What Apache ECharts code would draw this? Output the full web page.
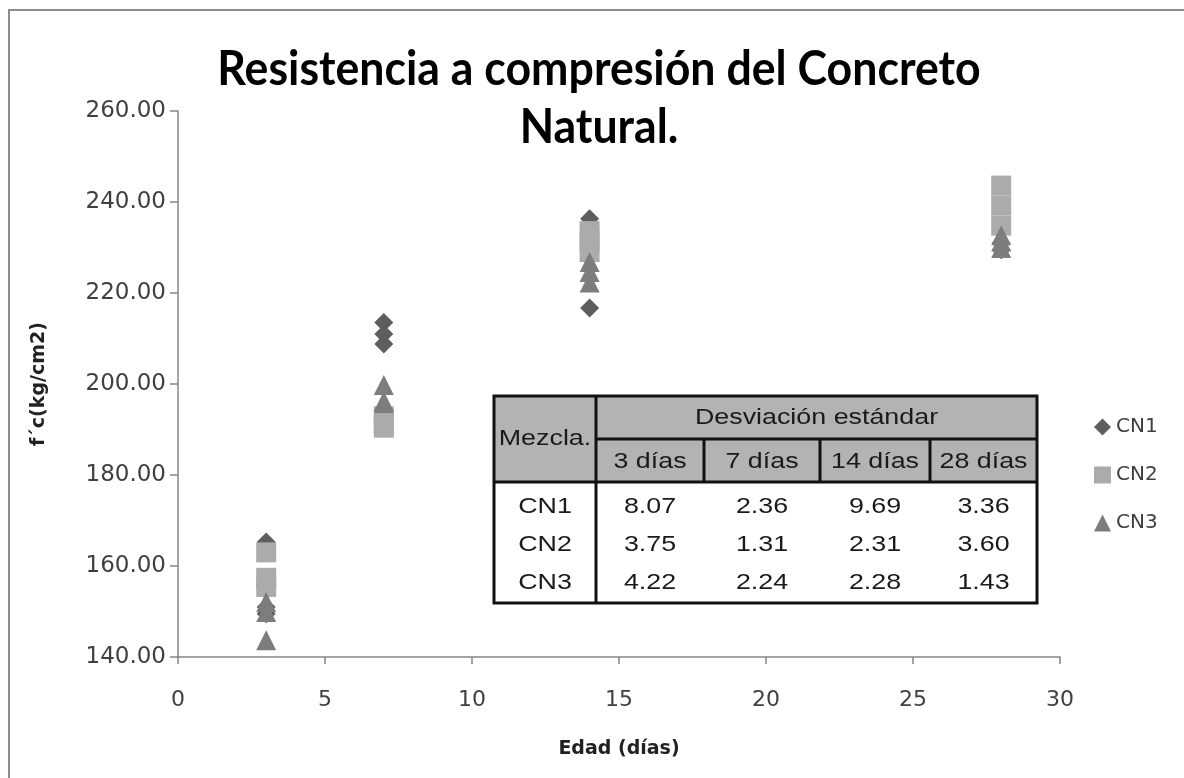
<!DOCTYPE html>
<html>
<head>
<meta charset="utf-8">
<script src="https://cdn.jsdelivr.net/npm/echarts@6/dist/echarts.min.js"></script>
<style>
  html, body { margin: 0; padding: 0; background: #ffffff; }
  #chart { width: 1184px; height: 778px; }
</style>
</head>
<body>
<div id="chart"></div>
<script>
// Test ages (days) and compressive strength results for each mix, f'c in kg/cm2
const days = [3, 7, 14, 28];
const cn1 = [[165.3, 151.0, 149.5], [213.5, 211.0, 208.8], [236.3, 232.0, 216.7], [234.6, 231.0, 229.5]];
const cn2 = [[163.0, 157.4, 155.4], [192.9, 191.4, 190.4], [233.6, 231.5, 229.0], [243.6, 239.2, 234.8]];
const cn3 = [[152.1, 149.9, 143.7], [199.8, 196.2, 195.8], [226.8, 224.6, 222.3], [232.7, 231.3, 229.9]];

// Standard deviation table
const mixNames = ['CN1', 'CN2', 'CN3'];
const ageHeaders = ['3 días', '7 días', '14 días', '28 días'];
const stdDev = [
  [8.07, 2.36, 9.69, 3.36],
  [3.75, 1.31, 2.31, 3.60],
  [4.22, 2.24, 2.28, 1.43]
];

const titleLines = ['Resistencia a compresión del Concreto', 'Natural.'];
const xTicks = [0, 5, 10, 15, 20, 25, 30];
const yTicks = [140, 160, 180, 200, 220, 240, 260];

function points(values) {
  const out = [];
  days.forEach((d, i) => values[i].forEach(v => out.push([d, v])));
  return out;
}

const TITLE_FONT = 'Lato, "Open Sans", sans-serif';
const LABEL_FONT = '"DejaVu Sans", "Open Sans", sans-serif';
const TABLE_FONT = '"Liberation Sans", Arial, sans-serif';

// Table geometry
const tbl = {
  left: 494, right: 1037, top: 396, mid: 439, head: 482, bottom: 603,
  cols: [596, 704, 820, 930]
};
const colCenters = [];
for (let i = 0; i < tbl.cols.length; i++) {
  const a = tbl.cols[i];
  const b = i + 1 < tbl.cols.length ? tbl.cols[i + 1] : tbl.right;
  colCenters.push((a + b) / 2);
}
const rowCenters = [507, 545, 583];
const TSX = 1.22;

function tText(str, x, y) {
  return {
    type: 'text', x: x, y: y, scaleX: TSX, z: 110,
    style: {
      text: str, x: 0, y: 0, textAlign: 'center', textVerticalAlign: 'middle',
      font: '22px ' + TABLE_FONT, fill: '#1a1a1a'
    }
  };
}
function tLine(x1, y1, x2, y2, w) {
  return { type: 'line', z: 111, shape: { x1, y1, x2, y2 }, style: { stroke: '#111111', lineWidth: w } };
}

const tableEls = [];
tableEls.push({ type: 'rect', z: 100, shape: { x: tbl.left, y: tbl.top, width: tbl.right - tbl.left, height: tbl.bottom - tbl.top }, style: { fill: '#ffffff' } });
tableEls.push({ type: 'rect', z: 101, shape: { x: tbl.left, y: tbl.top, width: tbl.right - tbl.left, height: tbl.head - tbl.top }, style: { fill: '#b3b3b3' } });
tableEls.push(tText('Mezcla.', (tbl.left + tbl.cols[0]) / 2, (tbl.top + tbl.head) / 2));
tableEls.push(tText('Desviación estándar', (tbl.cols[0] + tbl.right) / 2, (tbl.top + tbl.mid) / 2));
ageHeaders.forEach((h, i) => tableEls.push(tText(h, colCenters[i], (tbl.mid + tbl.head) / 2 + 1)));
mixNames.forEach((m, r) => {
  tableEls.push(tText(m, (tbl.left + tbl.cols[0]) / 2, rowCenters[r]));
  stdDev[r].forEach((v, c) => tableEls.push(tText(v.toFixed(2), colCenters[c], rowCenters[r])));
});
tableEls.push(tLine(tbl.cols[0], tbl.mid, tbl.right, tbl.mid, 3));
tableEls.push(tLine(tbl.left, tbl.head, tbl.right, tbl.head, 3));
tableEls.push(tLine(tbl.cols[0], tbl.top, tbl.cols[0], tbl.bottom, 3));
for (let i = 1; i < tbl.cols.length; i++) tableEls.push(tLine(tbl.cols[i], tbl.mid, tbl.cols[i], tbl.head, 3));
tableEls.push({ type: 'rect', z: 112, shape: { x: tbl.left, y: tbl.top, width: tbl.right - tbl.left, height: tbl.bottom - tbl.top }, style: { fill: 'none', stroke: '#111111', lineWidth: 3 } });

// Two-line chart title
const titleEls = titleLines.map((t, i) => ({
  type: 'text', x: 599, y: 70 + i * 58, scaleX: 0.95, z: 50,
  style: {
    text: t, x: 0, y: 0, textAlign: 'center', textVerticalAlign: 'middle',
    font: 'bold 47px ' + TITLE_FONT, fill: '#000000'
  }
}));

const chart = echarts.init(document.getElementById('chart'), null, { renderer: 'canvas' });

chart.setOption({
  animation: false,
  backgroundColor: '#ffffff',
  legend: {
    orient: 'vertical', left: 1089, top: 412, itemGap: 28,
    itemWidth: 17, itemHeight: 17,
    textStyle: { fontFamily: LABEL_FONT, fontSize: 20, color: '#404040' },
    data: ['CN1', 'CN2', 'CN3']
  },
  grid: { left: 178, top: 111, width: 882, height: 546 },
  xAxis: {
    type: 'value', min: xTicks[0], max: xTicks[xTicks.length - 1], interval: 5,
    name: 'Edad (días)', nameLocation: 'middle', nameGap: 83,
    nameTextStyle: { fontFamily: LABEL_FONT, fontWeight: 'bold', fontSize: 19, color: '#222222' },
    axisLine: { lineStyle: { color: '#868686', width: 1.5 } },
    axisTick: { show: true, length: 7, lineStyle: { color: '#868686', width: 1.5 } },
    splitLine: { show: false },
    axisLabel: { margin: 32, fontFamily: LABEL_FONT, fontSize: 22, color: '#404040' }
  },
  yAxis: {
    type: 'value', min: yTicks[0], max: yTicks[yTicks.length - 1], interval: 20,
    name: 'f´c(kg/cm2)', nameLocation: 'middle', nameGap: 129,
    nameTextStyle: { fontFamily: LABEL_FONT, fontWeight: 'bold', fontSize: 19, color: '#222222' },
    axisLine: { show: true, lineStyle: { color: '#868686', width: 1.5 } },
    axisTick: { show: true, length: 8, lineStyle: { color: '#868686', width: 1.5 } },
    splitLine: { show: false },
    axisLabel: { margin: 12, fontFamily: LABEL_FONT, fontSize: 23, color: '#404040', formatter: v => v.toFixed(2) }
  },
  series: [
    { name: 'CN1', type: 'scatter', symbol: 'diamond', symbolSize: 19, itemStyle: { color: '#5e5e5e', opacity: 1 }, data: points(cn1) },
    { name: 'CN2', type: 'scatter', symbol: 'rect', symbolSize: 20, itemStyle: { color: '#ababab', opacity: 1 }, data: points(cn2) },
    { name: 'CN3', type: 'scatter', symbol: 'triangle', symbolSize: 20, itemStyle: { color: '#7d7d7d', opacity: 1 }, data: points(cn3) }
  ],
  graphic: [
    { type: 'rect', z: -1, shape: { x: 9, y: 10, width: 1200, height: 800 }, style: { fill: 'none', stroke: '#8c8c8c', lineWidth: 2 } },
    { type: 'group', children: titleEls },
    { type: 'group', children: tableEls }
  ]
});
</script>
</body>
</html>
